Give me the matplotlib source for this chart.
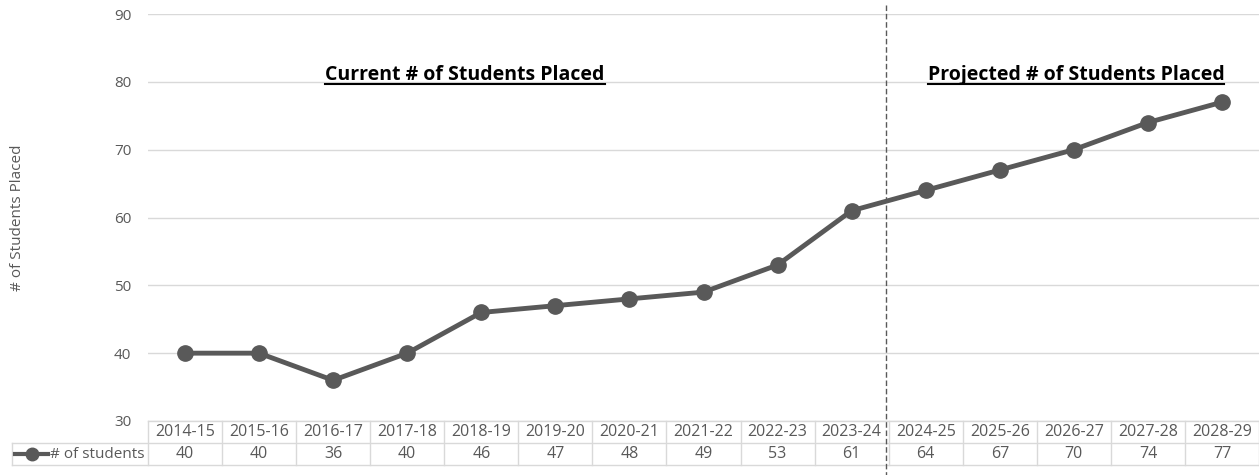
import numpy as np
import matplotlib
matplotlib.use("Agg")
import matplotlib.pyplot as plt
from matplotlib.lines import Line2D

years = ["2014-15", "2015-16", "2016-17", "2017-18", "2018-19", "2019-20", "2020-21",
         "2021-22", "2022-23", "2023-24", "2024-25", "2025-26", "2026-27", "2027-28", "2028-29"]
students = [40, 40, 36, 40, 46, 47, 48, 49, 53, 61, 64, 67, 70, 74, 77]
series_name = "# of students"
yticks = [30, 40, 50, 60, 70, 80, 90]

plt.rcParams['font.family'] = ['Open Sans', 'DejaVu Sans']
GRAY = "#595959"
GRID = "#d9d9d9"
FS = 11
FS_TAB = 11.5

W, H = 1259, 475
fig = plt.figure(figsize=(W/100, H/100), dpi=100)
ax = fig.add_axes([148/W, (H-421)/H, (W-148)/W, 407/H])

x = np.arange(len(years))
ax.plot(x, students, color=GRAY, lw=3.5, marker="o", ms=11, zorder=3, clip_on=False)
ax.set_xlim(-0.5, len(years) - 0.5)
ax.set_ylim(30, 90)
ax.set_yticks(yticks)
ax.set_yticklabels([str(v) for v in yticks], color=GRAY, fontsize=FS)
ax.tick_params(axis="y", length=0, pad=12)
ax.set_xticks([])
for v in yticks:
    ax.axhline(v, color=GRID, lw=1, zorder=1)
for s in ax.spines.values():
    s.set_visible(False)

fig.text(18/W, 1 - 218/H, "# of Students Placed", rotation=90, ha="center", va="center",
         color=GRAY, fontsize=FS)

# data table below the plot
def fy(py):
    return 1 - py/H
def fx(px):
    return px/W
tl = dict(color=GRID, lw=1)
col_w = (W - 148) / len(years)
fig.add_artist(Line2D([fx(148), 1], [fy(421), fy(421)], **tl))
fig.add_artist(Line2D([fx(12), 1], [fy(443), fy(443)], **tl))
fig.add_artist(Line2D([fx(12), 1], [fy(465), fy(465)], **tl))
fig.add_artist(Line2D([fx(12), fx(12)], [fy(443), fy(465)], **tl))
for i in range(len(years) + 1):
    px = 148 + i*col_w
    fig.add_artist(Line2D([fx(px), fx(px)], [fy(421), fy(465)], **tl))
for i, (yr, v) in enumerate(zip(years, students)):
    cx = 148 + (i + 0.5)*col_w
    fig.text(fx(cx), fy(432), yr, ha="center", va="center", color=GRAY, fontsize=FS_TAB)
    fig.text(fx(cx), fy(454), str(v), ha="center", va="center", color=GRAY, fontsize=FS_TAB)
fig.add_artist(Line2D([fx(15), fx(48)], [fy(454), fy(454)], color=GRAY, lw=3))
fig.add_artist(Line2D([fx(32)], [fy(454)], color=GRAY, marker="o", ms=9))
fig.text(fx(145), fy(454), series_name, ha="right", va="center", color=GRAY, fontsize=FS)

# dashed divider between actual and projected
div_px = 148 + 10*col_w - 3
fig.add_artist(Line2D([fx(div_px), fx(div_px)], [fy(5), fy(475)], color=GRAY, lw=1,
                      ls=(0, (4, 2))))

# underlined headings
fig.canvas.draw()
renderer = fig.canvas.get_renderer()
for label, cx in [("Current # of Students Placed", 465), ("Projected # of Students Placed", 1076)]:
    t = fig.text(fx(cx), fy(80), label, ha="center", va="baseline", fontsize=14,
                 fontweight="bold", color="black")
    bb = t.get_window_extent(renderer)
    fig.add_artist(Line2D([bb.x0/W, bb.x1/W], [fy(84), fy(84)], color="black", lw=1.5))

fig.savefig("out.png", dpi=100)
